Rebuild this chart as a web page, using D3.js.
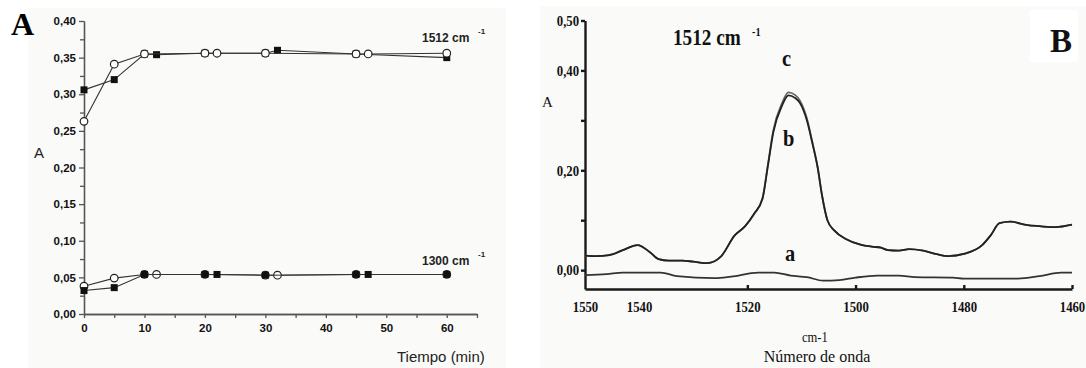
<!DOCTYPE html>
<meta charset="utf-8">
<style>
    body { margin: 0; background: #fff; }
    svg { display: block; }
    .axA path, .axA line { stroke: #555; stroke-width: 1.3; }
    .axA text { font-family: "Liberation Sans", Arial, sans-serif; font-size: 11.5px; font-weight: bold; fill: #111; }
    .axB path, .axB line { stroke: #1a1a1a; stroke-width: 2.4; }
    .axB text { font-family: "Liberation Serif", "Times New Roman", serif; font-size: 15px; font-weight: bold; fill: #111; }
</style>
<body>
<script src="https://cdn.jsdelivr.net/npm/d3@7"></script>
<script>
// panel A: absorbance vs time
var tiempoSq1512 = [0, 5, 10, 12, 20, 30, 32, 45, 60];
var absSq1512 = [0.306, 0.320, 0.355, 0.354, 0.356, 0.356, 0.360, 0.355, 0.350];
var tiempoCi1512 = [0, 5, 10, 20, 22, 30, 45, 47, 60];
var absCi1512 = [0.263, 0.341, 0.355, 0.356, 0.356, 0.356, 0.355, 0.355, 0.356];
var tiempoSq1300 = [0, 5, 10, 20, 22, 30, 45, 47, 60];
var absSq1300 = [0.032, 0.036, 0.054, 0.054, 0.054, 0.053, 0.054, 0.054, 0.054];
var tiempoCi1300 = [0, 5, 10, 12, 20, 30, 32, 45, 60];
var absCi1300 = [0.038, 0.049, 0.054, 0.054, 0.054, 0.053, 0.053, 0.054, 0.054];
var yTicksA = [0, 0.05, 0.10, 0.15, 0.20, 0.25, 0.30, 0.35, 0.40];
var xTicksA = [0, 10, 20, 30, 40, 50, 60];

// panel B: spectra
var numOnda = [1550, 1548, 1545.5, 1543, 1540.3, 1538, 1536.4, 1534.5, 1532, 1530, 1527.4, 1524.9, 1522.3, 1520.4,
    1518.8, 1517.2, 1516.2, 1515.2, 1513.6, 1512.4, 1511.2, 1510.3, 1509, 1508, 1507, 1506.2, 1505.2, 1503.9,
    1501.7, 1499.1, 1497, 1495.3, 1494, 1492, 1490.1, 1487.5, 1485, 1483, 1479.8, 1476.6, 1475, 1473.4, 1471.4,
    1468.2, 1466, 1463.1, 1460];
var espectroB = [0.029, 0.028, 0.030, 0.040, 0.050, 0.036, 0.022, 0.019, 0.019, 0.017, 0.014, 0.027, 0.070, 0.088,
    0.112, 0.143, 0.209, 0.276, 0.329, 0.350, 0.345, 0.335, 0.300, 0.255, 0.205, 0.150, 0.100, 0.079,
    0.062, 0.051, 0.047, 0.045, 0.040, 0.039, 0.042, 0.039, 0.032, 0.028, 0.033, 0.050, 0.070, 0.094, 0.097,
    0.090, 0.088, 0.086, 0.091];
var espectroC = [0.029, 0.028, 0.030, 0.040, 0.050, 0.036, 0.022, 0.019, 0.019, 0.017, 0.014, 0.027, 0.070, 0.088,
    0.112, 0.144, 0.211, 0.280, 0.334, 0.356, 0.351, 0.340, 0.304, 0.257, 0.206, 0.150, 0.100, 0.079,
    0.062, 0.051, 0.047, 0.045, 0.040, 0.039, 0.042, 0.039, 0.032, 0.028, 0.033, 0.050, 0.070, 0.094, 0.097,
    0.090, 0.088, 0.086, 0.091];
var numOndaA = [1550, 1546, 1543, 1536, 1533, 1526, 1523, 1518, 1515, 1512, 1509, 1506, 1503, 1500, 1496, 1492,
    1489, 1482, 1480, 1470, 1466, 1462, 1460];
var espectroA = [-0.010, -0.008, -0.005, -0.005, -0.012, -0.016, -0.013, -0.005, -0.005, -0.011, -0.014, -0.021,
    -0.020, -0.015, -0.011, -0.011, -0.014, -0.015, -0.017, -0.017, -0.012, -0.005, -0.005];
var yTicksB = [0, 0.1, 0.2, 0.3, 0.4, 0.5];
var yLabelsB = [0, 0.2, 0.4, 0.5];
var xTicksB = [1550, 1540, 1520, 1500, 1480, 1460];

var width = 1086, height = 368;
var coma = function (d) { return d.toFixed(2).replace(".", ","); };
var zip = function (xs, ys) { return xs.map(function (x, i) { return [x, ys[i]]; }); };

var svg = d3.select("body").append("svg")
    .attr("width", width)
    .attr("height", height);

svg.append("rect").attr("x", 28).attr("y", 8).attr("width", 478).attr("height", 360).attr("fill", "#fafaf8");
svg.append("rect").attr("x", 540).attr("y", 6).attr("width", 546).attr("height", 362).attr("fill", "#fafaf8");

// ---- panel A ----
var xA = d3.scaleLinear().domain([0, 65]).range([84, 477]);
var yA = d3.scaleLinear().domain([0, 0.4]).range([314, 21]);

var gA = svg.append("g");

gA.append("g").attr("class", "axA")
    .attr("transform", "translate(84,0)")
    .call(d3.axisLeft(yA).tickValues(d3.range(0.025, 0.4, 0.05)).tickSize(4).tickFormat("").tickSizeOuter(0));
gA.append("g").attr("class", "axA")
    .attr("transform", "translate(84,0)")
    .call(d3.axisLeft(yA).tickValues(yTicksA).tickSize(5).tickPadding(3).tickFormat(coma).tickSizeOuter(0));

gA.append("g").attr("class", "axA")
    .attr("transform", "translate(0,314)")
    .call(d3.axisBottom(xA).tickValues(d3.range(5, 66, 10)).tickSize(4).tickFormat("").tickSizeOuter(0));
gA.append("g").attr("class", "axA")
    .attr("transform", "translate(0,314)")
    .call(d3.axisBottom(xA).tickValues(xTicksA).tickSize(4).tickPadding(6).tickFormat(d3.format("d")).tickSizeOuter(0));

var lineA = d3.line().x(function (d) { return xA(d[0]); }).y(function (d) { return yA(d[1]); });

function serie(pts, tipo) {
    gA.append("path").datum(pts)
        .attr("d", lineA)
        .attr("fill", "none")
        .attr("stroke", "#333")
        .attr("stroke-width", 1.1);
    if (tipo === "sq") {
        gA.selectAll(null).data(pts).enter().append("rect")
            .attr("x", function (d) { return xA(d[0]) - 3.5; })
            .attr("y", function (d) { return yA(d[1]) - 3.5; })
            .attr("width", 7).attr("height", 7)
            .attr("fill", "#111");
    } else {
        gA.selectAll(null).data(pts).enter().append("circle")
            .attr("cx", function (d) { return xA(d[0]); })
            .attr("cy", function (d) { return yA(d[1]); })
            .attr("r", 3.8)
            .attr("fill", "#fff")
            .attr("stroke", "#222")
            .attr("stroke-width", 1.2);
    }
}

serie(zip(tiempoSq1512, absSq1512), "sq");
serie(zip(tiempoCi1512, absCi1512), "ci");
serie(zip(tiempoCi1300, absCi1300), "ci");
serie(zip(tiempoSq1300, absSq1300), "sq");

var sans = "'Liberation Sans', Arial, sans-serif";
var serif = "'Liberation Serif', 'Times New Roman', serif";

gA.append("text").attr("x", 11).attr("y", 35)
    .style("font-family", serif).style("font-size", "32px").style("font-weight", "bold").text("A");
gA.append("text").attr("x", 39).attr("y", 158).attr("text-anchor", "middle")
    .style("font-family", sans).style("font-size", "15px").attr("fill", "#222").text("A");

[["1512 cm", 42], ["1300 cm", 265]].forEach(function (l) {
    gA.append("text").attr("x", 422).attr("y", l[1])
        .style("font-family", sans).style("font-size", "12px").style("font-weight", "bold").attr("fill", "#222")
        .text(l[0]);
    gA.append("text").attr("x", 478).attr("y", l[1] - 8)
        .style("font-family", sans).style("font-size", "8px").style("font-weight", "bold").attr("fill", "#222")
        .text("-1");
});

gA.append("text").attr("x", 397).attr("y", 362)
    .style("font-family", sans).style("font-size", "15px").attr("fill", "#222").text("Tiempo (min)");

// ---- panel B ----
var xB = d3.scaleLinear().domain([1550, 1460]).range([585, 1072]);
var yB = d3.scaleLinear().domain([-0.0378, 0.5]).range([289, 20.5]);

var gB = svg.append("g");

var ejeY = gB.append("g").attr("class", "axB")
    .attr("transform", "translate(585,0)")
    .call(d3.axisLeft(yB).tickValues(yTicksB).tickSize(4).tickPadding(3).tickSizeOuter(0)
        .tickFormat(function (d) { return yLabelsB.indexOf(d) >= 0 ? coma(d) : ""; }));
ejeY.selectAll("text").attr("transform", "scale(0.85,1)");

var ejeX = gB.append("g").attr("class", "axB")
    .attr("transform", "translate(0,289)")
    .call(d3.axisBottom(xB).tickValues(xTicksB).tickSize(-4).tickPadding(12).tickSizeOuter(0).tickFormat(d3.format("d")));
ejeX.selectAll(".tick line").filter(function (d) { return d > 1520; }).remove();
ejeX.selectAll("text").attr("transform", "scale(0.85,1)");

var lineB = d3.line()
    .x(function (d) { return xB(d[0]); })
    .y(function (d) { return yB(d[1]); })
    .curve(d3.curveMonotoneX);

gB.append("path").datum(zip(numOnda, espectroC))
    .attr("d", lineB).attr("fill", "none").attr("stroke", "#666").attr("stroke-width", 1.8);
gB.append("path").datum(zip(numOnda, espectroB))
    .attr("d", lineB).attr("fill", "none").attr("stroke", "#222").attr("stroke-width", 1.8);
gB.append("path").datum(zip(numOndaA, espectroA))
    .attr("d", lineB).attr("fill", "none").attr("stroke", "#333").attr("stroke-width", 1.8);

function etiqueta(txt, x, y, size, bold, sx) {
    return gB.append("text")
        .attr("transform", "translate(" + x + "," + y + ") scale(" + sx + ",1)")
        .style("font-family", serif).style("font-size", size + "px")
        .style("font-weight", bold ? "bold" : "normal").attr("fill", "#111")
        .text(txt);
}

etiqueta("A", 542, 107, 15, false, 1);
etiqueta("1512 cm", 673, 45, 24, true, 0.8);
etiqueta("-1", 752, 36, 13, true, 0.8);
etiqueta("c", 782, 66, 24, true, 0.85);
etiqueta("b", 783, 146, 24, true, 0.85);
etiqueta("a", 785, 261, 24, true, 0.85);

gB.append("rect").attr("x", 1030).attr("y", 10).attr("width", 48).attr("height", 52).attr("fill", "#fff");
etiqueta("B", 1050, 52, 33, true, 1);

etiqueta("cm-1", 802, 342, 14, false, 0.9);
gB.append("text").attr("x", 817).attr("y", 362).attr("text-anchor", "middle")
    .style("font-family", serif).style("font-size", "16px").attr("fill", "#111").text("Número de onda");
</script>
